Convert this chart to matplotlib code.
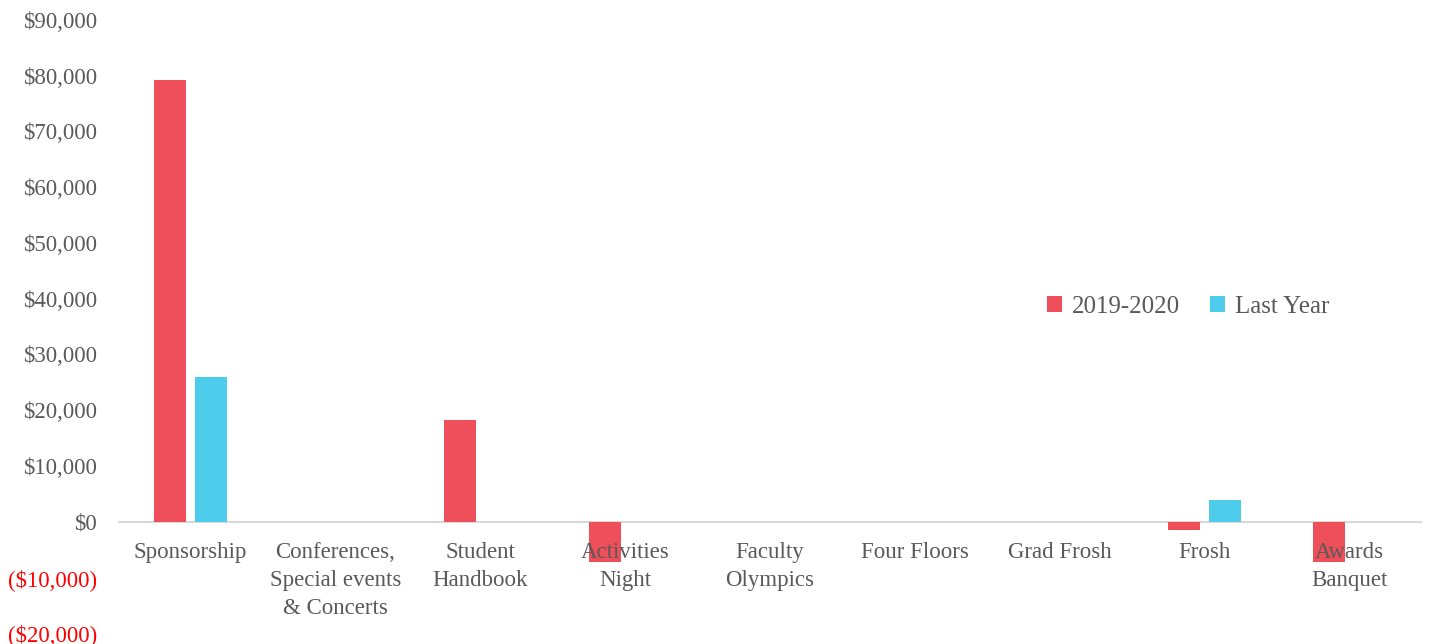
import matplotlib
matplotlib.use("Agg")
import matplotlib.pyplot as plt
import numpy as np

categories = ["Sponsorship", "Conferences,\nSpecial events\n& Concerts", "Student\nHandbook",
              "Activities\nNight", "Faculty\nOlympics", "Four Floors", "Grad Frosh", "Frosh",
              "Awards\nBanquet"]
this_year = [79200, 0, 18300, -7200, 0, 0, 0, -1600, -7200]
last_year = [25900, 0, 0, 0, 0, 0, 0, 3800, 0]
yticks = list(range(-20000, 90001, 10000))

C_RED = "#EF4F5B"
C_BLUE = "#4DCCEC"
C_TEXT = "#595959"
C_AXIS = "#D9D9D9"

plt.rcParams["font.family"] = ["Liberation Serif", "DejaVu Serif"]

fig = plt.figure(figsize=(14.29, 6.44), dpi=100)
ax = fig.add_axes([118 / 1429, 11 / 644, 1304 / 1429, 613 / 644])

x = np.arange(len(categories))
w = 0.22
off = 0.14
ax.bar(x - off, this_year, width=w, color=C_RED, label="2019-2020", zorder=2)
ax.bar(x + off, last_year, width=w, color=C_BLUE, label="Last Year", zorder=2)

ax.set_xlim(-0.5, len(categories) - 0.5)
ax.set_ylim(-20000, 90000)
ax.axhline(0, color=C_AXIS, linewidth=1.5, zorder=1)

for sp in ax.spines.values():
    sp.set_visible(False)

ax.set_xticks([])
ax.set_yticks(yticks)
labs = []
for v in yticks:
    if v < 0:
        labs.append(f"(${-v:,})")
    else:
        labs.append(f"${v:,}")
ax.set_yticklabels(labs)
ax.tick_params(axis="y", length=0, pad=15, labelsize=16.5)
for t, v in zip(ax.get_yticklabels(), yticks):
    t.set_color("#FF0000" if v < 0 else C_TEXT)

for i, c in enumerate(categories):
    ax.annotate(c, xy=(i, 0), xytext=(0, -14.5), textcoords="offset points",
                ha="center", va="top", fontsize=16.5, color=C_TEXT,
                linespacing=1.45, zorder=3)

leg = ax.legend(loc="center", bbox_to_anchor=(1188 / 1429, 1 - 307 / 644),
                bbox_transform=fig.transFigure, ncol=2, frameon=False,
                fontsize=18, handlelength=0.6, handleheight=0.6,
                handletextpad=0.4, columnspacing=1.2)
for t in leg.get_texts():
    t.set_color(C_TEXT)

fig.savefig("out.png", dpi=100)
